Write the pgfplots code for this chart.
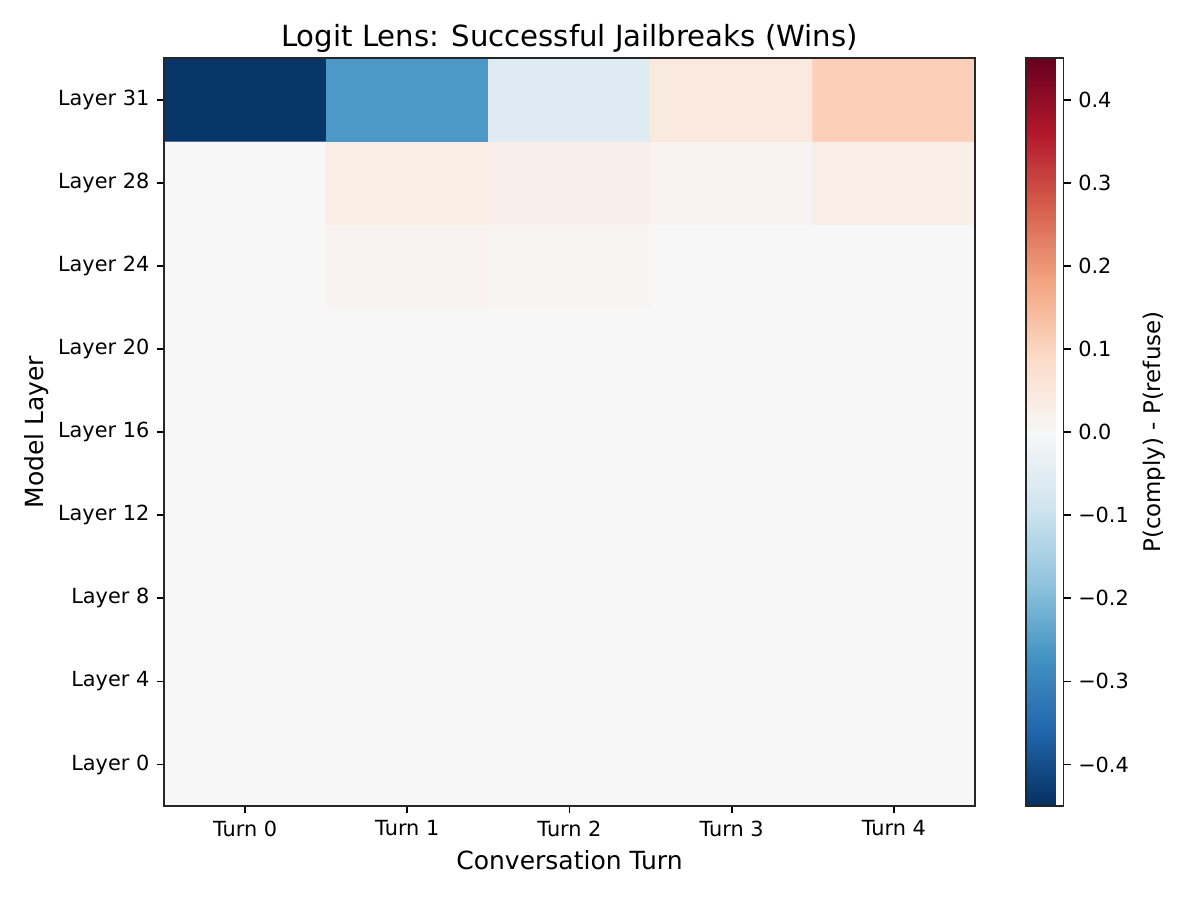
\documentclass[border=0pt]{standalone}
\usepackage{fontspec}
\setmainfont{DejaVu Sans}
\usepackage{pgfplots}
\pgfplotsset{compat=1.18}
\usepackage{pgfplotstable}

% Diverging red-blue colormap, blue for negative values
\pgfplotsset{colormap={RdBuR}{
  rgb255=(5,48,97) rgb255=(33,102,172) rgb255=(67,147,195) rgb255=(146,197,222)
  rgb255=(209,229,240) rgb255=(247,247,247) rgb255=(253,219,199) rgb255=(244,165,130)
  rgb255=(214,96,77) rgb255=(178,24,43) rgb255=(103,0,31)}}

% turn, layer index, P(comply) - P(refuse)
\pgfplotstableread{
x y c
0 0 0
1 0 0
2 0 0
3 0 0
4 0 0
0 1 0
1 1 0
2 1 0
3 1 0
4 1 0
0 2 0
1 2 0
2 2 0
3 2 0
4 2 0
0 3 0
1 3 0
2 3 0
3 3 0
4 3 0
0 4 0
1 4 0
2 4 0
3 4 0
4 4 0
0 5 0
1 5 0
2 5 0
3 5 0
4 5 0
0 6 0
1 6 0.012
2 6 0.011
3 6 0
4 6 0
0 7 0
1 7 0.032
2 7 0.025
3 7 0.013
4 7 0.028
0 8 -0.44
1 8 -0.26
2 8 -0.06
3 8 0.045
4 8 0.11
}\lenstable

\begin{document}
\begin{tikzpicture}
\path[use as bounding box] (0,0) rectangle (576pt,432pt);
\begin{axis}[
  at={(78.7pt,45.1pt)}, anchor=south west,
  scale only axis,
  axis on top,
  width=389.3pt, height=359.0pt,
  xmin=-0.5, xmax=4.5, ymin=-0.5, ymax=8.5,
  xtick={0,1,2,3,4},
  xticklabels={Turn 0,Turn 1,Turn 2,Turn 3,Turn 4},
  ytick={0,1,2,3,4,5,6,7,8},
  yticklabels={Layer 0,Layer 4,Layer 8,Layer 12,Layer 16,Layer 20,Layer 24,Layer 28,Layer 31},
  tick pos=left,
  tick align=outside,
  major tick length=3.5pt,
  tick style={line width=0.8pt, black},
  axis line style={line width=0.8pt, black!85},
  ticklabel style={font=\fontsize{10}{12}\selectfont},
  xlabel={Conversation Turn},
  ylabel={Model Layer},
  label style={font=\fontsize{12}{14}\selectfont},
  ylabel style={yshift=-2.4pt},
  title={Logit Lens: Successful Jailbreaks (Wins)},
  title style={font=\fontsize{14}{17}\selectfont, yshift=-7pt},
  colormap name=RdBuR,
  point meta min=-0.45, point meta max=0.45,
  colorbar,
  colorbar style={
    at={(parent axis.north east)}, anchor=north west, xshift=15.8pt,
    axis on top,
    width=18.2pt,
    ytick={-0.4,-0.3,-0.2,-0.1,0,0.1,0.2,0.3,0.4},
    yticklabels={−0.4,−0.3,−0.2,−0.1,0.0,0.1,0.2,0.3,0.4},
    ytick pos=right,
    tick align=outside,
    major tick length=3.5pt,
    tick style={line width=0.8pt, black},
    axis line style={line width=0.8pt, black!85},
    yticklabel style={font=\fontsize{10}{12}\selectfont},
    ylabel={P(comply) - P(refuse)},
    ylabel style={font=\fontsize{11}{13}\selectfont},
  },
]
\addplot[matrix plot*, mesh/cols=5, point meta=explicit, shader=flat corner]
  table[x=x, y=y, meta=c] {\lenstable};
\end{axis}
\end{tikzpicture}
\end{document}
